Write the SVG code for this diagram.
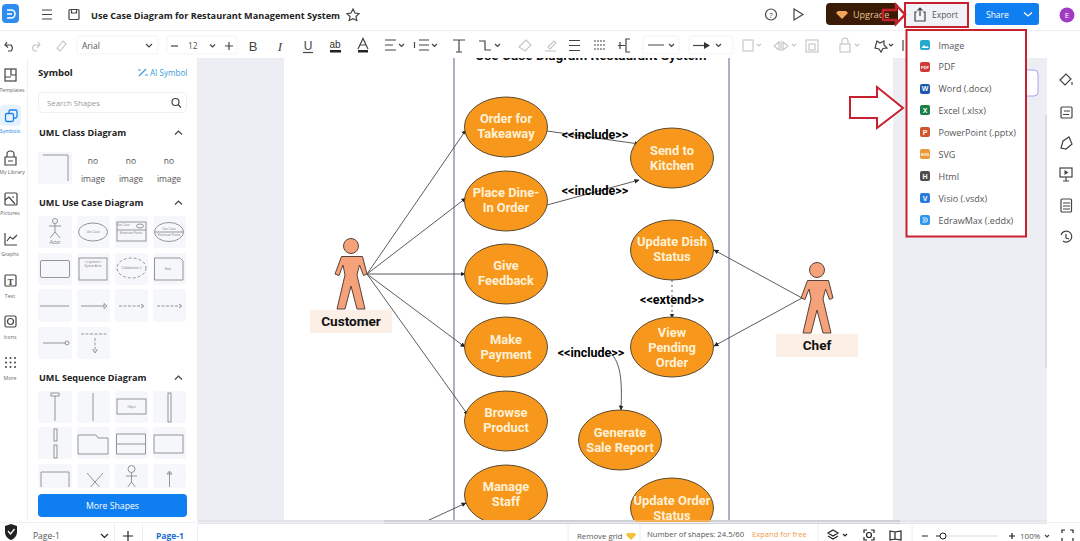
<svg xmlns="http://www.w3.org/2000/svg" width="1080" height="541" viewBox="0 0 1080 541">
<style>
.ui{font-family:"Open Sans","Noto Sans","Liberation Sans",sans-serif}
.t{font-family:"Open Sans","Noto Sans",sans-serif;fill:#555;font-size:9px}
.h{font-family:"Open Sans","Noto Sans",sans-serif;font-weight:700;fill:#222;font-size:9.1px}
.rail{font-family:"Open Sans","Noto Sans",sans-serif;fill:#666;font-size:5.2px;text-anchor:middle}
.ic{fill:none;stroke:#444;stroke-width:1.2}
.icl{fill:none;stroke:#c4c4c4;stroke-width:1.1}
.tile{fill:#f6f7fa}
.th{fill:none;stroke:#8a8a8a;stroke-width:.9}
.tt{font-family:"Liberation Sans",sans-serif;fill:#888;font-size:3px;text-anchor:middle}
.uc{fill:#f7981d;stroke:#5b4a2e;stroke-width:1}
.ut{font-family:Roboto,"Liberation Sans",sans-serif;font-weight:700;font-size:12.9px;fill:#fff1d6;text-anchor:middle}
.lb{font-family:Roboto,"Liberation Sans",sans-serif;font-weight:700;font-size:12.5px;fill:#000;text-anchor:middle}
.ac{font-family:Roboto,"Liberation Sans",sans-serif;font-weight:700;font-size:13.6px;fill:#111;text-anchor:middle}
.actor{fill:#f5a27b;stroke:#55433a;stroke-width:1}
.lab{fill:#fcefe6}
.con{fill:none;stroke:#4a4a4a;stroke-width:.9}
.red{fill:none;stroke:#c8202f;stroke-width:2}
.mi{font-family:"Open Sans","Noto Sans",sans-serif;font-size:9px;fill:#555}
.mt{font-family:"Liberation Sans",sans-serif;font-size:5px;font-weight:700;fill:#fff;text-anchor:middle}
</style>
<defs>
<marker id="a" markerWidth="6" markerHeight="6" refX="5" refY="3" orient="auto"><path d="M0,0.4 L5.5,3 L0,5.6 Z" fill="#222"/></marker>
<clipPath id="cv"><rect x="198" y="58" width="849" height="462"/></clipPath>
<clipPath id="pn"><rect x="28" y="58" width="170" height="429"/></clipPath>
<path id="fig" d="M-9.5,10.5 L11.5,10.5 L16,28 L12.5,29.5 L8.5,19 L6,29 L14,63 L6,63 L0,40 L-6,63 L-14,63 L-6,29 L-8,19 L-12,29.5 L-16,28 Z"/>
</defs>
<rect width="1080" height="541" fill="#fff"/>
<rect x="198" y="58" width="849" height="462" fill="#eceef3"/>
<rect x="284" y="58" width="609" height="462" fill="#fff"/>
<rect x="1045" y="115" width="4" height="253" fill="#dcdde2"/>
<g clip-path="url(#cv)">
<g id="boundary"><rect x="454" y="40" width="275" height="500" fill="none" stroke="#5a6288" stroke-width="1"/>
<text x="591" y="60" font-family="Roboto,'Liberation Sans',sans-serif" font-weight="700" font-size="13.6" text-anchor="middle" fill="#111">Use Case Diagram Restaurant System</text></g>
<g id="connectors">
<path class="con" marker-end="url(#a)" d="M367,274 L466,130"/>
<path class="con" marker-end="url(#a)" d="M367,274 L466,198"/>
<path class="con" marker-end="url(#a)" d="M367,274 L465,274"/>
<path class="con" marker-end="url(#a)" d="M367,274 L465,347"/>
<path class="con" marker-end="url(#a)" d="M367,274 L468,415"/>
<path class="con" marker-end="url(#a)" d="M427,521 L466,503"/>
<path class="con" marker-end="url(#a)" d="M547,131 L639,144"/>
<path class="con" marker-end="url(#a)" d="M547,205 L639,180"/>
<path class="con" marker-end="url(#a)" d="M610,352 C622,364 622,385 621,410"/>
<path class="con" stroke-dasharray="2 3" marker-end="url(#a)" d="M672,280 L672,318"/>
<path class="con" marker-end="url(#a)" d="M802,298 L714,250"/>
<path class="con" marker-end="url(#a)" d="M802,298 L714,346"/>
</g>
<g id="customer"><circle class="actor" cx="351" cy="246" r="7.5"/><use href="#fig" x="351" y="246" class="actor"/><rect class="lab" x="310" y="310" width="82" height="23"/><text class="ac" x="351" y="326">Customer</text></g>
<g id="chef"><circle class="actor" cx="817" cy="270" r="7.5"/><use href="#fig" x="817" y="270" class="actor"/><rect class="lab" x="776" y="334" width="82" height="23"/><text class="ac" x="817" y="350">Chef</text></g>
<g id="uc1"><ellipse class="uc" cx="506" cy="127" rx="41.5" ry="30"/><text class="ut" x="506" y="123">Order for</text><text class="ut" x="506" y="138">Takeaway</text></g>
<g id="uc2"><ellipse class="uc" cx="506" cy="201" rx="41.5" ry="30"/><text class="ut" x="506" y="197">Place Dine-</text><text class="ut" x="506" y="212">In Order</text></g>
<g id="uc3"><ellipse class="uc" cx="506" cy="274" rx="41.5" ry="30"/><text class="ut" x="506" y="270">Give</text><text class="ut" x="506" y="285">Feedback</text></g>
<g id="uc4"><ellipse class="uc" cx="506" cy="347" rx="41.5" ry="30"/><text class="ut" x="506" y="344">Make</text><text class="ut" x="506" y="359">Payment</text></g>
<g id="uc5"><ellipse class="uc" cx="506" cy="421" rx="41.5" ry="30"/><text class="ut" x="506" y="417">Browse</text><text class="ut" x="506" y="432">Product</text></g>
<g id="uc6"><ellipse class="uc" cx="506" cy="495" rx="41.5" ry="30"/><text class="ut" x="506" y="491">Manage</text><text class="ut" x="506" y="506">Staff</text></g>
<g id="uc7"><ellipse class="uc" cx="672" cy="158" rx="41.5" ry="30"/><text class="ut" x="672" y="155">Send to</text><text class="ut" x="672" y="170">Kitchen</text></g>
<g id="uc8"><ellipse class="uc" cx="672" cy="250" rx="41.5" ry="30"/><text class="ut" x="672" y="246">Update Dish</text><text class="ut" x="672" y="261">Status</text></g>
<g id="uc9"><ellipse class="uc" cx="672" cy="347" rx="41.5" ry="30"/><text class="ut" x="672" y="337">View</text><text class="ut" x="672" y="352">Pending</text><text class="ut" x="672" y="367">Order</text></g>
<g id="uc10"><ellipse class="uc" cx="620" cy="440" rx="41.5" ry="30"/><text class="ut" x="620" y="437">Generate</text><text class="ut" x="620" y="452">Sale Report</text></g>
<g id="uc11"><ellipse class="uc" cx="672" cy="508" rx="41.5" ry="30"/><text class="ut" x="672" y="505">Update Order</text><text class="ut" x="672" y="520">Status</text></g>
<text class="lb" x="595" y="139">&lt;&lt;include&gt;&gt;</text>
<text class="lb" x="595" y="195">&lt;&lt;include&gt;&gt;</text>
<text class="lb" x="591" y="357">&lt;&lt;include&gt;&gt;</text>
<text class="lb" x="672" y="304">&lt;&lt;extend&gt;&gt;</text>
</g>
<rect x="198" y="520" width="849" height="4" fill="#e4e5ea"/>
<rect x="384" y="520" width="516" height="4" fill="#cfd0d5"/>
<rect x="635" y="520" width="75" height="2" fill="#f7b05a"/>

<g id="topbar">
<rect x="0" y="30" width="1080" height="1" fill="#f0f0f2"/>
<rect x="2" y="4" width="17" height="19" rx="4" fill="#2f8cf0"/><path d="M7,10 H11 A4,4 0 0 1 11,18 H7 M7,14 H12" fill="none" stroke="#fff" stroke-width="1.6"/>
<path class="ic" d="M42,10 H52 M42,14.5 H52 M42,19 H52"/>
<rect class="ic" x="69" y="9.5" width="10" height="10" rx="1"/><path class="ic" d="M71.5,9.5 V13 H76.5 V9.5"/>
<text x="91" y="18.500" class="ui" font-size="9.15" font-weight="700" fill="#222">Use Case Diagram for Restaurant Management System</text>
<path class="ic" d="M353,9 L355,13 L359,13.6 L356,16.5 L356.8,20.5 L353,18.6 L349.2,20.5 L350,16.5 L347,13.6 L351,13 Z"/>
<circle class="ic" cx="771" cy="14.5" r="5.5"/><text x="771" y="17.5" class="ui" font-size="8" text-anchor="middle" fill="#444">?</text>
<path class="ic" d="M794,9 L803,14.5 L794,20 Z"/>
<rect x="826" y="3" width="72" height="22" rx="4" fill="#3a1b06"/>
<path d="M838,11 H846 L848,13 L842,19 L836,13 Z" fill="#f2a65a"/>
<text x="853" y="18" class="ui" font-size="9" fill="#e8c49a">Upgrade</text>
<rect x="905" y="3" width="63" height="24" fill="#f1f2f8"/>
<path class="ic" d="M917,12 H915 V21 H925 V12 H923 M920,16 V8 M917.5,10.5 L920,8 L922.5,10.5"/>
<text x="932" y="18" class="ui" font-size="8.5" fill="#555">Export</text>
<rect class="red" x="905" y="3" width="63" height="24"/>
<path class="red" d="M883,10 H896 V5 L905,14.5 L896,24 V20 H883 Z" style="stroke-width:2.4"/>
<rect x="975" y="3" width="64" height="22" rx="3" fill="#0f7ef0"/>
<text x="986" y="18" class="ui" font-size="8.5" fill="#fff">Share</text>
<path d="M1024,12.5 L1028,16 L1032,12.5" fill="none" stroke="#fff" stroke-width="1.3"/>
<circle cx="1067" cy="15" r="7.5" fill="#a23bc4"/><text x="1067" y="18" class="ui" font-size="8" text-anchor="middle" fill="#fff">E</text>
</g>

<g id="toolbar">
<path class="ic" d="M7,42 L5,45 L8,47.5 M5.5,45 H11 A4,4 0 0 1 11,51 H8"/>
<path class="icl" d="M38,42 L40,45 L37,47.5 M39.5,45 H34 A4,4 0 0 0 34,51 H37"/>
<path class="icl" d="M57,48 L63,41 L66,44 L60,51 Z"/>
<rect x="77" y="36" width="81" height="18" rx="3" fill="#fff" stroke="#f3f3f5"/>
<text x="82" y="49" class="t" style="font-size:8.5px">Arial</text>
<path class="ic" d="M146,44 L149,47 L152,44"/>
<rect x="167" y="36" width="70" height="18" rx="3" fill="#fff" stroke="#f3f3f5"/>
<path class="ic" d="M171,46 H178"/><text x="188" y="49" class="t" style="font-size:8.5px">12</text>
<path class="ic" d="M210,44.5 L212.5,47 L215,44.5 M225,46 H233 M229,42 V50"/>
<text x="253" y="51" font-family="Liberation Sans,sans-serif" font-size="13" fill="#444" text-anchor="middle">B</text>
<text x="280" y="51" font-family="Liberation Serif,serif" font-style="italic" font-size="13" fill="#444" text-anchor="middle">I</text>
<text x="308" y="50" font-family="Liberation Sans,sans-serif" font-size="12" fill="#444" text-anchor="middle">U</text><path class="ic" d="M303,52.5 H313"/>
<text x="335" y="48" font-family="Liberation Sans,sans-serif" font-size="10" fill="#333" text-anchor="middle">ab</text><rect x="330" y="50" width="11" height="2.5" fill="#222"/>
<path class="ic" d="M358,49 L363,38.5 L368,49 M360,45 H366"/><rect x="358" y="50" width="10" height="2.5" fill="#222"/>
<path class="ic" d="M385,40 H396 M385,45 H393 M385,50 H396 M399,44 L401.5,46.5 L404,44"/>
<path class="ic" d="M419,40 H429 M419,45 H429 M419,50 H429 M414.5,42 V48 M432,44 L434.5,46.5 L437,44"/>
<path class="ic" d="M453,40 H465 M459,40 V52 M456,52 H462"/>
<path class="ic" d="M479,41 H485 V50 H491 M495,44 L497.5,46.5 L500,44"/>
<path class="icl" d="M519,47 L526,40 L531,45 L525,51 Z"/>
<path class="icl" d="M545,51 H556 M548,47 L554,41 L556,43 L550,49 Z"/>
<path class="ic" d="M569,40.5 H580 M569,45.5 H580 M569,50.5 H580"/>
<path class="ic" stroke-dasharray="2 1" d="M594,41 H606 M594,45 H606 M594,49 H606"/>
<path class="ic" d="M618,45.5 H625 M630,39 H626 V52 H630 M620,42 V49"/>
<rect x="643" y="36" width="36" height="18" rx="3" fill="#fff" stroke="#f3f3f5"/><path class="ic" d="M648,45 H664 M669,44 L671.5,46.5 L674,44"/>
<rect x="689" y="36" width="44" height="18" rx="3" fill="#fff" stroke="#f3f3f5"/><path class="ic" d="M693,45.5 H706"/><path d="M704,42 L710,45.5 L704,49 Z" fill="#333"/><path class="ic" d="M716,44 L718.5,46.5 L721,44"/>
<rect class="icl" x="743" y="40" width="10" height="11"/><path class="icl" d="M757,44 L759,46 L761,44"/>
<path class="icl" d="M781,41 V51 M779,42 L774,46 L779,50 Z M783,42 L788,46 L783,50 Z M792,44 L794,46 L796,44"/>
<rect class="icl" x="806" y="40" width="12" height="12"/><rect class="icl" x="809" y="44" width="6" height="6"/>
<rect class="icl" x="840" y="44" width="10" height="8"/><path class="icl" d="M842,44 V41 A3,3 0 0 1 848,41 V44 M855,44 L857,46 L859,44"/>
<path class="ic" d="M877,41 L880,43 L884,41 L884,45 L887,48 L883,48.5 L881,52 L879,49 L875,48 Z M889,44 L891,46 L893,44"/>
<path class="ic" d="M903,40 V51"/>
</g>

<g id="rail">
<rect x="27" y="58" width="1" height="463" fill="#f1f1f3"/>
<rect class="ic" x="5" y="69" width="11" height="12"/><path class="ic" d="M11,69 V75 H16 M5,77 H11"/>
<text class="rail" x="12" y="92">Templates</text>
<rect x="0" y="105" width="21" height="21" rx="4" fill="#e6f2fd"/>
<rect x="9" y="110" width="8" height="8" rx="1.5" fill="none" stroke="#1a82e8" stroke-width="1.3"/><rect x="5.5" y="113.5" width="8" height="8" rx="1.5" fill="#e6f2fd" stroke="#1a82e8" stroke-width="1.3"/>
<text class="rail" x="10" y="133" style="fill:#1a82e8">Symbols</text>
<path class="ic" d="M5,157 H16 V165 H5 Z M7,157 V154 A3.5,3 0 0 1 14,154 V157 M8,161 H13"/>
<text class="rail" x="12" y="174">My Library</text>
<rect class="ic" x="5" y="193" width="12" height="12" rx="1"/><path class="ic" d="M5,200 L9,197 L15,204 M12,197 h2"/>
<text class="rail" x="10" y="215">Pictures</text>
<path class="ic" d="M5,233 V245 H17 M7,241 L10,237 L13,239 L17,235"/>
<text class="rail" x="10" y="256">Graphs</text>
<rect class="ic" x="5" y="275" width="11" height="11" rx="1"/><text x="10.5" y="284.5" font-family="Liberation Serif,serif" font-weight="700" font-size="9" text-anchor="middle" fill="#444">T</text>
<text class="rail" x="10" y="298">Text</text>
<rect class="ic" x="5" y="316" width="11" height="11" rx="1.5"/><circle class="ic" cx="10.5" cy="321.5" r="3"/>
<text class="rail" x="10" y="339">Icons</text>
<g fill="#444"><circle cx="6" cy="358" r="1"/><circle cx="10.5" cy="358" r="1"/><circle cx="15" cy="358" r="1"/><circle cx="6" cy="362.5" r="1"/><circle cx="10.5" cy="362.5" r="1"/><circle cx="15" cy="362.5" r="1"/><circle cx="6" cy="367" r="1"/><circle cx="10.5" cy="367" r="1"/><circle cx="15" cy="367" r="1"/></g>
<text class="rail" x="10" y="380">More</text>
</g>

<g id="symbols">
<rect x="197" y="58" width="1" height="463" fill="#eee"/>
<text class="h" x="38" y="76" style="font-size:9.5px">Symbol</text>
<path d="M139,76 L146,69 M138,70 h3 M145,75 h3" stroke="#3a9ae0" stroke-width="1.2" fill="none"/>
<text x="150" y="76" class="ui" font-size="8.1" fill="#3a9ae0">AI Symbol</text>
<rect x="38.5" y="92.5" width="148" height="20" rx="4" fill="#fff" stroke="#f0f0f2"/>
<text class="t" x="47" y="106" style="font-size:7.8px;fill:#999">Search Shapes</text>
<circle class="ic" cx="175.5" cy="102" r="3.5"/><path class="ic" d="M178,104.5 L181,107.5"/>
<text class="h" x="39" y="136">UML Class Diagram</text><path class="ic" d="M175,134.5 L178.5,131 L182,134.5"/>
<rect class="tile" x="38" y="152" width="34" height="32"/><path class="th" d="M43,155 H68 V181"/>
<g font-family="Open Sans,Noto Sans,sans-serif" font-size="8.5" fill="#555" text-anchor="middle">
<text x="93" y="164">no</text><text x="93" y="182">image</text><text x="131" y="164">no</text><text x="131" y="182">image</text><text x="169" y="164">no</text><text x="169" y="182">image</text></g>
<text class="h" x="39" y="206">UML Use Case Diagram</text><path class="ic" d="M175,204.5 L178.5,201 L182,204.5"/>
<g class="tile">
<rect x="38" y="216" width="34" height="32" rx="3"/><rect x="77" y="216" width="33" height="32" rx="3"/><rect x="115" y="216" width="33" height="32" rx="3"/><rect x="153" y="216" width="33" height="32" rx="3"/>
<rect x="38" y="253" width="34" height="32" rx="3"/><rect x="77" y="253" width="33" height="32" rx="3"/><rect x="115" y="253" width="33" height="32" rx="3"/><rect x="153" y="253" width="33" height="32" rx="3"/>
<rect x="38" y="289" width="34" height="33" rx="3"/><rect x="77" y="289" width="33" height="33" rx="3"/><rect x="115" y="289" width="33" height="33" rx="3"/><rect x="153" y="289" width="33" height="33" rx="3"/>
<rect x="38" y="327" width="34" height="32" rx="3"/><rect x="77" y="327" width="33" height="32" rx="3"/>
<rect x="38" y="391" width="34" height="32" rx="3"/><rect x="77" y="391" width="33" height="32" rx="3"/><rect x="115" y="391" width="33" height="32" rx="3"/><rect x="153" y="391" width="33" height="32" rx="3"/>
<rect x="38" y="427" width="34" height="32" rx="3"/><rect x="77" y="427" width="33" height="32" rx="3"/><rect x="115" y="427" width="33" height="32" rx="3"/><rect x="153" y="427" width="33" height="32" rx="3"/>
<rect x="38" y="464" width="34" height="24" rx="3"/><rect x="77" y="464" width="33" height="24" rx="3"/><rect x="115" y="464" width="33" height="24" rx="3"/><rect x="153" y="464" width="33" height="24" rx="3"/>
</g>
<g class="th">
<circle cx="55" cy="221" r="2.5"/><path d="M55,223.5 V232 M49,226 H61 M55,232 L50,238 M55,232 L60,238"/>
<ellipse cx="93" cy="232" rx="14.5" ry="9"/>
<rect x="117" y="222" width="29" height="19"/><path d="M117,230 H146"/><ellipse cx="140" cy="226" rx="3.5" ry="2"/>
<ellipse cx="169" cy="232" rx="14.5" ry="9.5"/><path d="M155,232 H183"/>
<rect x="40.5" y="260.5" width="29" height="17" rx="1.5"/>
<rect x="79" y="258" width="28" height="22"/>
<ellipse cx="131.5" cy="268" rx="14.5" ry="10" stroke-dasharray="3 2"/>
<path d="M154.5,258 H180 L183,261 V280 H154.5 Z"/>
<path d="M40,306 H69"/><path d="M81,306 H104 M104,303.5 L107,306 L104,308.5 Z"/>
<path d="M119,306 H144 M141,304 L144,306 L141,308" stroke-dasharray="3 1.5"/><path d="M157,306 H182 M179,304 L182,306 L179,308" stroke-dasharray="3 1.5"/>
<path d="M43,343 H66"/><circle cx="67" cy="343" r="2"/>
<path d="M81,334 H107 M95,338 V352" stroke-dasharray="3 1.5"/><path d="M92.5,349 L95,353 L97.5,349"/>
<rect x="51" y="393" width="8" height="3"/><path d="M55,396 V421"/><path d="M93,393 V421"/>
<rect x="117" y="399" width="29" height="15"/><rect x="168" y="393" width="3" height="29"/>
<rect x="54" y="429" width="3" height="12"/><rect x="54" y="445" width="3" height="13"/>
<path d="M78,435 H96 L98,438 H108 V454 H78 Z"/><rect x="116.5" y="434" width="29" height="20"/><path d="M116.5,444 H145.5"/><rect x="154" y="435" width="29" height="18"/>
</g>
<text x="55" y="244" font-family="Liberation Sans,sans-serif" font-size="4.5" fill="#777" text-anchor="middle">Actor</text>
<text class="tt" x="93" y="233">Use Case</text>
<text class="tt" x="123" y="226">Use Case</text><text class="tt" x="131" y="234">Extension Points</text>
<text class="tt" x="169" y="230">Use Case</text><text class="tt" x="169" y="236">Extension Points</text>
<text class="tt" x="93" y="263">&lt;&lt;system&gt;&gt;</text><text class="tt" x="93" y="267">System Actor</text>
<text class="tt" x="131.5" y="269">Collaboration 1</text><text class="tt" x="168" y="270">Note</text>
<text class="tt" x="131.5" y="408">Object</text>
<g clip-path="url(#pn)">
<text class="h" x="39" y="381">UML Sequence Diagram</text>
<path class="th" d="M41,472 H69 V490 M41,472 V490 M87,473 L103,491 M103,473 L87,491"/>
<circle class="th" cx="131.5" cy="469" r="3.5"/><path class="th" d="M131.5,472.5 V482 M126,476 H137 M131.5,482 L127,488 M131.5,482 L136,488"/>
<path class="th" d="M169.5,472 V490 M167,474 L169.5,471 L172,474 Z"/>
</g>
<path class="ic" d="M175,379.5 L178.5,376 L182,379.5"/>
<rect x="38" y="494" width="149" height="23" rx="4" fill="#0f7ef0"/>
<text x="112.5" y="509" class="ui" font-size="8.7" fill="#fff" text-anchor="middle">More Shapes</text>
</g>

<g id="rightbar">
<rect x="1047" y="58" width="33" height="463" fill="#fff"/>
<rect x="1000" y="70" width="38" height="26" rx="4" fill="#fff" stroke="#a9a0ee"/>
<path class="ic" d="M1060,80 L1066,74 L1071,79 L1065,85 Z M1072,82 v3"/>
<rect class="ic" x="1061" y="107" width="11" height="11" rx="1"/><path class="ic" d="M1064,111 H1070 M1063,114.5 H1069"/>
<path class="ic" d="M1061,148 L1063,141 L1069,137 L1072,144 L1066,149 Z"/>
<rect class="ic" x="1060" y="168" width="12" height="9"/><path class="ic" d="M1066,177 V181 M1063,181 H1069"/><path d="M1064.5,170 L1068.5,172.5 L1064.5,175 Z" fill="#444"/>
<rect class="ic" x="1061" y="199" width="10.5" height="13" rx="1"/><path class="ic" d="M1063,203 H1070 M1063,206 H1070 M1063,209 H1070"/>
<path class="ic" d="M1061,235 A5.5,5.5 0 1 1 1063,241 M1066,234 V238 L1069,239"/>
</g>

<g id="bottombar">
<rect x="0" y="522" width="1080" height="1" fill="#f0f0f2"/>
<path d="M5,526 L11,524 L17,526 V532 C17,536 14,539 11,540 C8,539 5,536 5,532 Z" fill="#222"/><path d="M8,531 L10.5,534 L14.5,529" stroke="#fff" stroke-width="1.3" fill="none"/>
<text class="t" x="33" y="539" style="font-size:8.5px">Page-1</text>
<path class="ic" style="stroke:#222" d="M101,534 L104.5,537.5 L108,534"/>
<path class="ic" style="stroke:#222" d="M123,536 H133 M128,531 V541"/>
<text x="156" y="539" class="ui" font-size="8.5" font-weight="700" fill="#1a6fd0">Page-1</text>
<path d="M114.5,524 V541 M142.5,524 V541 M197.5,524 V541 M568,524 V541 M640,524 V541 M818,524 V541 M912,524 V541" stroke="#eee"/>
<text class="t" x="577" y="539" style="font-size:7.8px">Remove grid</text>
<path d="M627,533 H635 L636,535 L631,540 L626,535 Z" fill="#f4c23d"/>
<text class="t" x="647" y="537" style="font-size:7.7px">Number of shapes: 24.5/60</text>
<text class="t" x="752" y="537" style="font-size:7.6px;fill:#ef9a4d">Expand for free</text>
<path class="ic" style="stroke:#222" d="M833,530 L838,533 L833,536 L828,533 Z M828,536 L833,539 L838,536 M843,534 L845,536 L847,534"/>
<circle class="ic" style="stroke:#222" cx="869" cy="535" r="2.5"/><path class="ic" style="stroke:#222" d="M864,533 V530 H867 M871,530 H874 V533 M874,537 V540 H871 M867,540 H864 V537"/>
<path class="ic" style="stroke:#222" d="M890,531 L895,532 L901,531 V540 L895,539 L890,540 Z M895,532 V539"/>
<path class="ic" style="stroke:#222" d="M922,536 H928 M1009,536 H1015 M1012,533 V539"/>
<path d="M944,536 H998" stroke="#ddd"/><path d="M936,536 H941" stroke="#222"/><circle cx="943" cy="536" r="3" fill="#fff" stroke="#222"/>
<text class="t" x="1020" y="539" style="font-size:8px">100%</text>
<path class="ic" d="M1045,535 L1047,537 L1049,535"/>
<path class="ic" style="stroke:#222" d="M1062,533 V530 H1065 M1070,530 H1073 V533 M1073,538 V541 M1062,538 V541"/>
</g>

<g id="export-menu">
<rect x="906" y="30" width="120" height="207" fill="#fff"/>
<rect class="red" x="906.5" y="30" width="119.5" height="206.5"/>
<rect x="920" y="40" width="10" height="10" rx="2" fill="#25aacb"/><path d="M921.5,48 L924,45 L926,47 L927,46 L929,48 Z" fill="#fff"/>
<rect x="920" y="62" width="10" height="10" rx="2" fill="#cf3d36"/><text class="mt" x="925" y="69" style="font-size:4px">PDF</text>
<rect x="920" y="84" width="10" height="10" rx="2" fill="#1f56b0"/><text class="mt" x="925" y="91" style="font-size:7px">W</text>
<rect x="920" y="105" width="10" height="10" rx="2" fill="#1b7f45"/><text class="mt" x="925" y="112.5" style="font-size:7px">X</text>
<rect x="920" y="127" width="10" height="10" rx="2" fill="#d2542a"/><text class="mt" x="925" y="134.5" style="font-size:7px">P</text>
<rect x="920" y="149" width="10" height="10" rx="2" fill="#ea9a38"/><text class="mt" x="925" y="156" style="font-size:4px">SVG</text>
<rect x="920" y="171" width="10" height="10" rx="2" fill="#4e4e4e"/><text class="mt" x="925" y="178.5" style="font-size:7px">H</text>
<rect x="920" y="193" width="10" height="10" rx="2" fill="#2a7be0"/><text class="mt" x="925" y="200.5" style="font-size:7px">V</text>
<rect x="920" y="215" width="10" height="10" rx="2" fill="#2f96ee"/><path d="M922.5,218 H925.5 A2,2 0 0 1 925.5,222 H922.5 M923,220 H926" fill="none" stroke="#fff" stroke-width=".9"/>
<text class="mi" x="938.5" y="48.5">Image</text>
<text class="mi" x="938.5" y="70">PDF</text>
<text class="mi" x="938.5" y="92">Word (.docx)</text>
<text class="mi" x="938.5" y="113.5">Excel (.xlsx)</text>
<text class="mi" x="938.5" y="136">PowerPoint (.pptx)</text>
<text class="mi" x="938.5" y="158">SVG</text>
<text class="mi" x="938.5" y="180">Html</text>
<text class="mi" x="938.5" y="201.5">Visio (.vsdx)</text>
<text class="mi" x="938.5" y="223.5">EdrawMax (.eddx)</text>
</g>
<g id="callout-arrow"><path d="M850,97 H877 V87 L903,108 L877,128 V118 H850 Z" fill="#fff" stroke="#c8202f" stroke-width="2"/></g>
</svg>
